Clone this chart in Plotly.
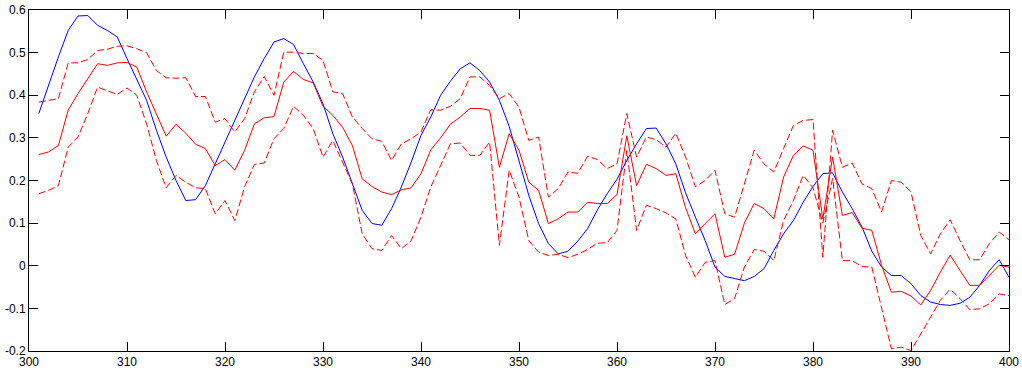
import plotly.graph_objects as go

x_vals = list(range(301, 401))

blue = [0.357, 0.426, 0.490, 0.552, 0.586, 0.587, 0.564, 0.552, 0.537, 0.486,
        0.439, 0.388, 0.318, 0.255, 0.200, 0.153, 0.155, 0.188, 0.239, 0.290,
        0.341, 0.396, 0.443, 0.486, 0.525, 0.533, 0.519, 0.474, 0.431, 0.380,
        0.310, 0.255, 0.192, 0.130, 0.099, 0.095, 0.134, 0.185, 0.243, 0.306,
        0.349, 0.400, 0.433, 0.462, 0.476, 0.458, 0.431, 0.388, 0.327, 0.249,
        0.165, 0.099, 0.052, 0.028, 0.034, 0.058, 0.087, 0.131, 0.169, 0.203,
        0.247, 0.286, 0.322, 0.323, 0.286, 0.239, 0.171, 0.114, 0.059, -0.003,
        -0.025, -0.030, -0.035, -0.025, -0.007, 0.036, 0.075, 0.106, 0.149, 0.186,
        0.216, 0.218, 0.173, 0.134, 0.091, 0.034, -0.003, -0.023, -0.023, -0.042,
        -0.070, -0.085, -0.091, -0.093, -0.088, -0.074, -0.046, -0.011, 0.014, -0.027]

mean_red = [0.261, 0.267, 0.282, 0.365, 0.404, 0.439, 0.474, 0.470, 0.476, 0.477,
            0.466, 0.408, 0.357, 0.304, 0.332, 0.311, 0.285, 0.275, 0.235, 0.249,
            0.224, 0.271, 0.333, 0.347, 0.350, 0.431, 0.456, 0.437, 0.429, 0.374,
            0.353, 0.325, 0.282, 0.204, 0.186, 0.173, 0.167, 0.178, 0.183, 0.216,
            0.272, 0.300, 0.332, 0.349, 0.369, 0.369, 0.365, 0.231, 0.310, 0.271,
            0.196, 0.177, 0.099, 0.110, 0.126, 0.126, 0.149, 0.146, 0.146, 0.167,
            0.305, 0.188, 0.238, 0.228, 0.212, 0.216, 0.136, 0.075, 0.099, 0.122,
            0.020, 0.027, 0.100, 0.146, 0.134, 0.110, 0.208, 0.259, 0.281, 0.271,
            0.110, 0.255, 0.118, 0.125, 0.088, 0.083, 0.001, -0.062, -0.060, -0.071,
            -0.092, -0.058, -0.015, 0.025, -0.011, -0.046, -0.046, -0.023, 0.001, -0.003]

upper_red = [0.384, 0.388, 0.392, 0.476, 0.476, 0.484, 0.505, 0.508, 0.515, 0.516,
             0.509, 0.500, 0.458, 0.441, 0.440, 0.441, 0.397, 0.397, 0.337, 0.345,
             0.314, 0.345, 0.408, 0.444, 0.400, 0.501, 0.501, 0.498, 0.498, 0.482,
             0.408, 0.404, 0.349, 0.322, 0.298, 0.292, 0.247, 0.286, 0.298, 0.314,
             0.366, 0.365, 0.374, 0.392, 0.443, 0.443, 0.423, 0.392, 0.404, 0.372,
             0.294, 0.302, 0.161, 0.181, 0.220, 0.217, 0.257, 0.249, 0.228, 0.239,
             0.357, 0.255, 0.302, 0.296, 0.278, 0.311, 0.255, 0.185, 0.200, 0.224,
             0.122, 0.114, 0.192, 0.271, 0.239, 0.220, 0.275, 0.329, 0.341, 0.343,
             0.020, 0.318, 0.231, 0.241, 0.192, 0.181, 0.126, 0.200, 0.196, 0.173,
             0.071, 0.028, 0.075, 0.108, 0.059, 0.014, 0.014, 0.052, 0.079, 0.061]

lower_red = [0.169, 0.177, 0.188, 0.278, 0.302, 0.357, 0.419, 0.411, 0.402, 0.417,
             0.400, 0.333, 0.247, 0.183, 0.212, 0.196, 0.183, 0.181, 0.122, 0.153,
             0.106, 0.185, 0.238, 0.241, 0.298, 0.322, 0.374, 0.353, 0.322, 0.255,
             0.294, 0.243, 0.192, 0.075, 0.040, 0.036, 0.071, 0.040, 0.059, 0.114,
             0.185, 0.235, 0.286, 0.288, 0.259, 0.259, 0.290, 0.048, 0.224, 0.161,
             0.059, 0.032, 0.024, 0.027, 0.019, 0.027, 0.038, 0.053, 0.054, 0.083,
             0.270, 0.083, 0.142, 0.134, 0.124, 0.110, 0.024, -0.027, 0.008, 0.012,
             -0.091, -0.077, -0.003, 0.038, 0.034, 0.012, 0.106, 0.153, 0.212, 0.183,
             0.100, 0.205, 0.012, 0.012, -0.002, -0.003, -0.097, -0.195, -0.191, -0.199,
             -0.160, -0.121, -0.081, -0.055, -0.077, -0.103, -0.101, -0.089, -0.066, -0.070]

x_ticks = [300, 310, 320, 330, 340, 350, 360, 370, 380, 390, 400]
x_tick_labels = ["300", "310", "320", "330", "340", "350", "360", "370", "380", "390", "400"]
y_ticks = [-0.2, -0.1, 0, 0.1, 0.2, 0.3, 0.4, 0.5, 0.6]
y_tick_labels = ["-0.2", "-0.1", "0", "0.1", "0.2", "0.3", "0.4", "0.5", "0.6"]

fig = go.Figure()
fig.add_trace(go.Scatter(x=x_vals, y=blue, mode="lines",
                         line=dict(color="#0000FF", width=1), showlegend=False))
fig.add_trace(go.Scatter(x=x_vals, y=mean_red, mode="lines",
                         line=dict(color="#FF0000", width=1), showlegend=False))
fig.add_trace(go.Scatter(x=x_vals, y=upper_red, mode="lines",
                         line=dict(color="#FF0000", width=1, dash="7px,3px"), showlegend=False))
fig.add_trace(go.Scatter(x=x_vals, y=lower_red, mode="lines",
                         line=dict(color="#FF0000", width=1, dash="7px,3px"), showlegend=False))

axis_font = dict(family="Liberation Sans, Arial, sans-serif", size=12, color="black")
fig.update_xaxes(range=[300, 400], tickvals=x_ticks, ticktext=x_tick_labels,
                 ticks="inside", ticklen=9, tickcolor="black", tickwidth=1,
                 showline=True, linecolor="black", linewidth=1, mirror="ticks",
                 showgrid=False, zeroline=False, tickfont=axis_font, automargin=False)
fig.update_yaxes(range=[-0.2, 0.6], tickvals=y_ticks, ticktext=y_tick_labels,
                 ticks="inside", ticklen=9, tickcolor="black", tickwidth=1,
                 showline=True, linecolor="black", linewidth=1, mirror="ticks",
                 showgrid=False, zeroline=False, tickfont=axis_font, automargin=False)
fig.update_layout(width=1022, height=374, plot_bgcolor="white", paper_bgcolor="white",
                  margin=dict(l=29, r=13, t=10, b=23, autoexpand=False))
fig.write_html("out.html",
               config={"displayModeBar": False, "staticPlot": True},
               post_script="document.body.style.margin='0';document.body.style.overflow='hidden';")
